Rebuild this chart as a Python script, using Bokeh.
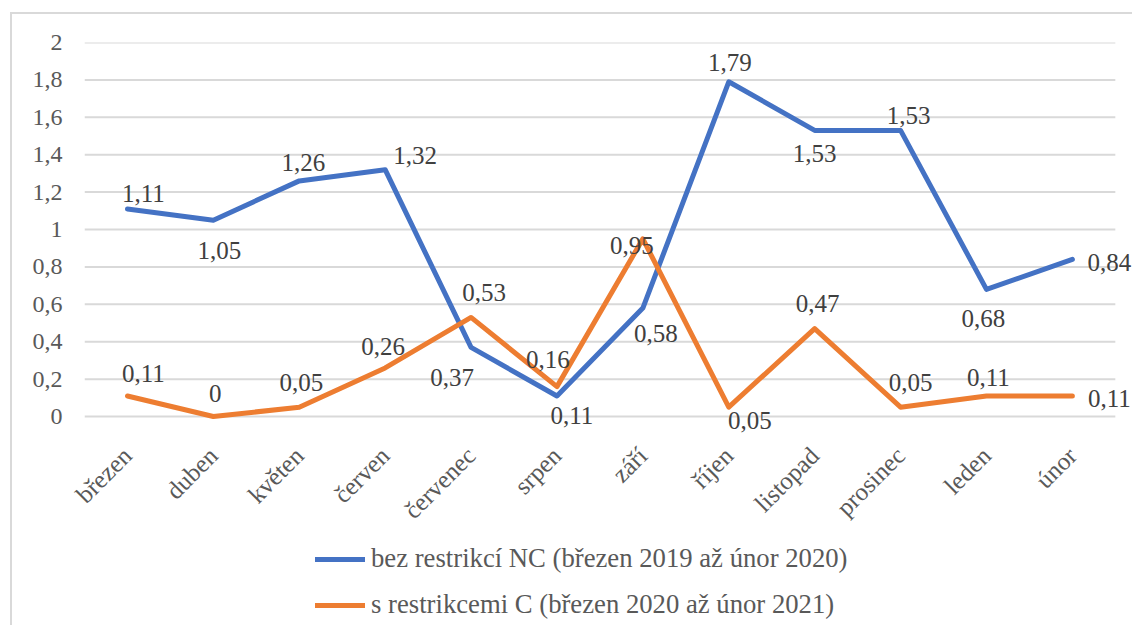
import math
from bokeh.plotting import figure
from bokeh.layouts import column
from bokeh.models import (ColumnDataSource, Range1d, FixedTicker,
                          CustomJSTickFormatter, Legend, LegendItem, LabelSet)
from bokeh.embed import file_html
from bokeh.resources import INLINE

# ---- data ----
months = ["březen", "duben", "květen", "červen", "červenec", "srpen",
          "září", "říjen", "listopad", "prosinec", "leden", "únor"]
nc_values = [1.11, 1.05, 1.26, 1.32, 0.37, 0.11, 0.58, 1.79, 1.53, 1.53, 0.68, 0.84]
c_values = [0.11, 0.0, 0.05, 0.26, 0.53, 0.16, 0.95, 0.05, 0.47, 0.05, 0.11, 0.11]
y_ticks = [0, 0.2, 0.4, 0.6, 0.8, 1.0, 1.2, 1.4, 1.6, 1.8, 2.0]
nc_name = "bez restrikcí NC (březen 2019 až únor 2020)"
c_name = "s restrikcemi C (březen 2020 až únor 2021)"

# ---- label placement (pixel offsets, styling only; +y is up) ----
nc_dx = [16, 6, 4, 30, -19, 15, 13, 1, 0, 8, -3, 37]
nc_dy = [15, -30, 18, 14, -30, -20, -25, 19, -23, 15, -29, -3]
c_dx = [16, 2, 2, -2, 13, -9, -11, 21, 3, 10, 2, 37]
c_dy = [22, 23, 25, 21, 25, 27, -7, -13, 25, 25, 18, -3]

BLUE = "#4472C4"
ORANGE = "#ED7D31"
GRID = "#d9d9d9"
FONT = "Liberation Serif"

idx = list(range(len(months)))


def fmt(v):
    return f"{v:g}".replace(".", ",")


src_nc = ColumnDataSource(dict(x=idx, y=nc_values, t=[fmt(v) for v in nc_values],
                               dx=nc_dx, dy=nc_dy))
src_c = ColumnDataSource(dict(x=idx, y=c_values, t=[fmt(v) for v in c_values],
                              dx=c_dx, dy=c_dy))

# ---------------- main chart ----------------
p = figure(width=1120, height=527, output_backend="svg", toolbar_location=None,
           x_range=Range1d(-0.5, 11.70), y_range=Range1d(-0.096, 2),
           min_border_left=72, min_border_right=0, min_border_top=28,
           min_border_bottom=107)
p.outline_line_color = None
p.background_fill_color = "white"
p.border_fill_color = "white"
p.grid.grid_line_color = None

# horizontal gridlines across the category area
p.segment(x0=[-0.5] * len(y_ticks), x1=[len(months) - 0.5] * len(y_ticks),
          y0=y_ticks, y1=y_ticks, line_color=GRID, line_width=2)

# y axis
p.yaxis.ticker = FixedTicker(ticks=y_ticks)
p.yaxis.formatter = CustomJSTickFormatter(
    code="return (Math.round(tick*10)/10).toString().replace('.', ',');")
p.yaxis.axis_line_color = None
p.yaxis.major_tick_line_color = None
p.yaxis.minor_tick_line_color = None
p.yaxis.major_tick_out = 0
p.yaxis.major_label_standoff = 22
p.yaxis.major_label_text_font = FONT
p.yaxis.major_label_text_font_size = "24px"
p.yaxis.major_label_text_color = "#595959"

# x axis (category names)
p.xaxis.ticker = FixedTicker(ticks=idx)
p.xaxis.formatter = CustomJSTickFormatter(
    args=dict(months=months), code="return months[Math.round(tick)] || '';")
p.xaxis.axis_line_color = None
p.xaxis.major_tick_line_color = None
p.xaxis.minor_tick_line_color = None
p.xaxis.major_tick_out = 0
p.xaxis.major_label_orientation = math.pi / 4
p.xaxis.major_label_standoff = 17
p.xaxis.major_label_text_font = FONT
p.xaxis.major_label_text_font_size = "25px"
p.xaxis.major_label_text_color = "#595959"

p.line("x", "y", source=src_nc, line_color=BLUE, line_width=5,
       line_join="round", line_cap="round")
p.line("x", "y", source=src_c, line_color=ORANGE, line_width=5,
       line_join="round", line_cap="round")

for src in (src_nc, src_c):
    p.add_layout(LabelSet(x="x", y="y", text="t", source=src,
                          x_offset="dx", y_offset="dy",
                          text_align="center", text_baseline="middle",
                          text_font=FONT, text_font_size="25px",
                          text_color="#404040"))

# ---------------- legend strip ----------------
# the series are drawn here too, but outside this strip's visible y range,
# so only their legend samples show
q = figure(width=1120, height=84, output_backend="svg", toolbar_location=None,
           x_range=Range1d(0, 1), y_range=Range1d(10, 11),
           x_axis_type=None, y_axis_type=None, min_border=0)
q.outline_line_color = None
q.background_fill_color = "white"
q.border_fill_color = "white"
l_nc = q.line("x", "y", source=src_nc, line_color=BLUE, line_width=5,
              line_cap="round")
l_c = q.line("x", "y", source=src_c, line_color=ORANGE, line_width=5,
             line_cap="round")

legend = Legend(items=[LegendItem(label=nc_name, renderers=[l_nc]),
                       LegendItem(label=c_name, renderers=[l_c])],
                location=(231, 5), orientation="vertical")
legend.background_fill_alpha = 0
legend.border_line_color = None
legend.margin = 0
legend.padding = 0
legend.spacing = 15
legend.glyph_width = 50
legend.glyph_height = 30
legend.label_height = 30
legend.label_standoff = 6
legend.label_text_font = FONT
legend.label_text_font_size = "26.7px"
legend.label_text_color = "#595959"
q.add_layout(legend, "center")

layout = column(p, q, spacing=0,
                styles={"margin-left": "10px", "margin-top": "12px",
                        "border-top": "2px solid #d9d9d9",
                        "border-left": "2px solid #d9d9d9"})

open("out.html", "w").write(file_html(layout, INLINE))
